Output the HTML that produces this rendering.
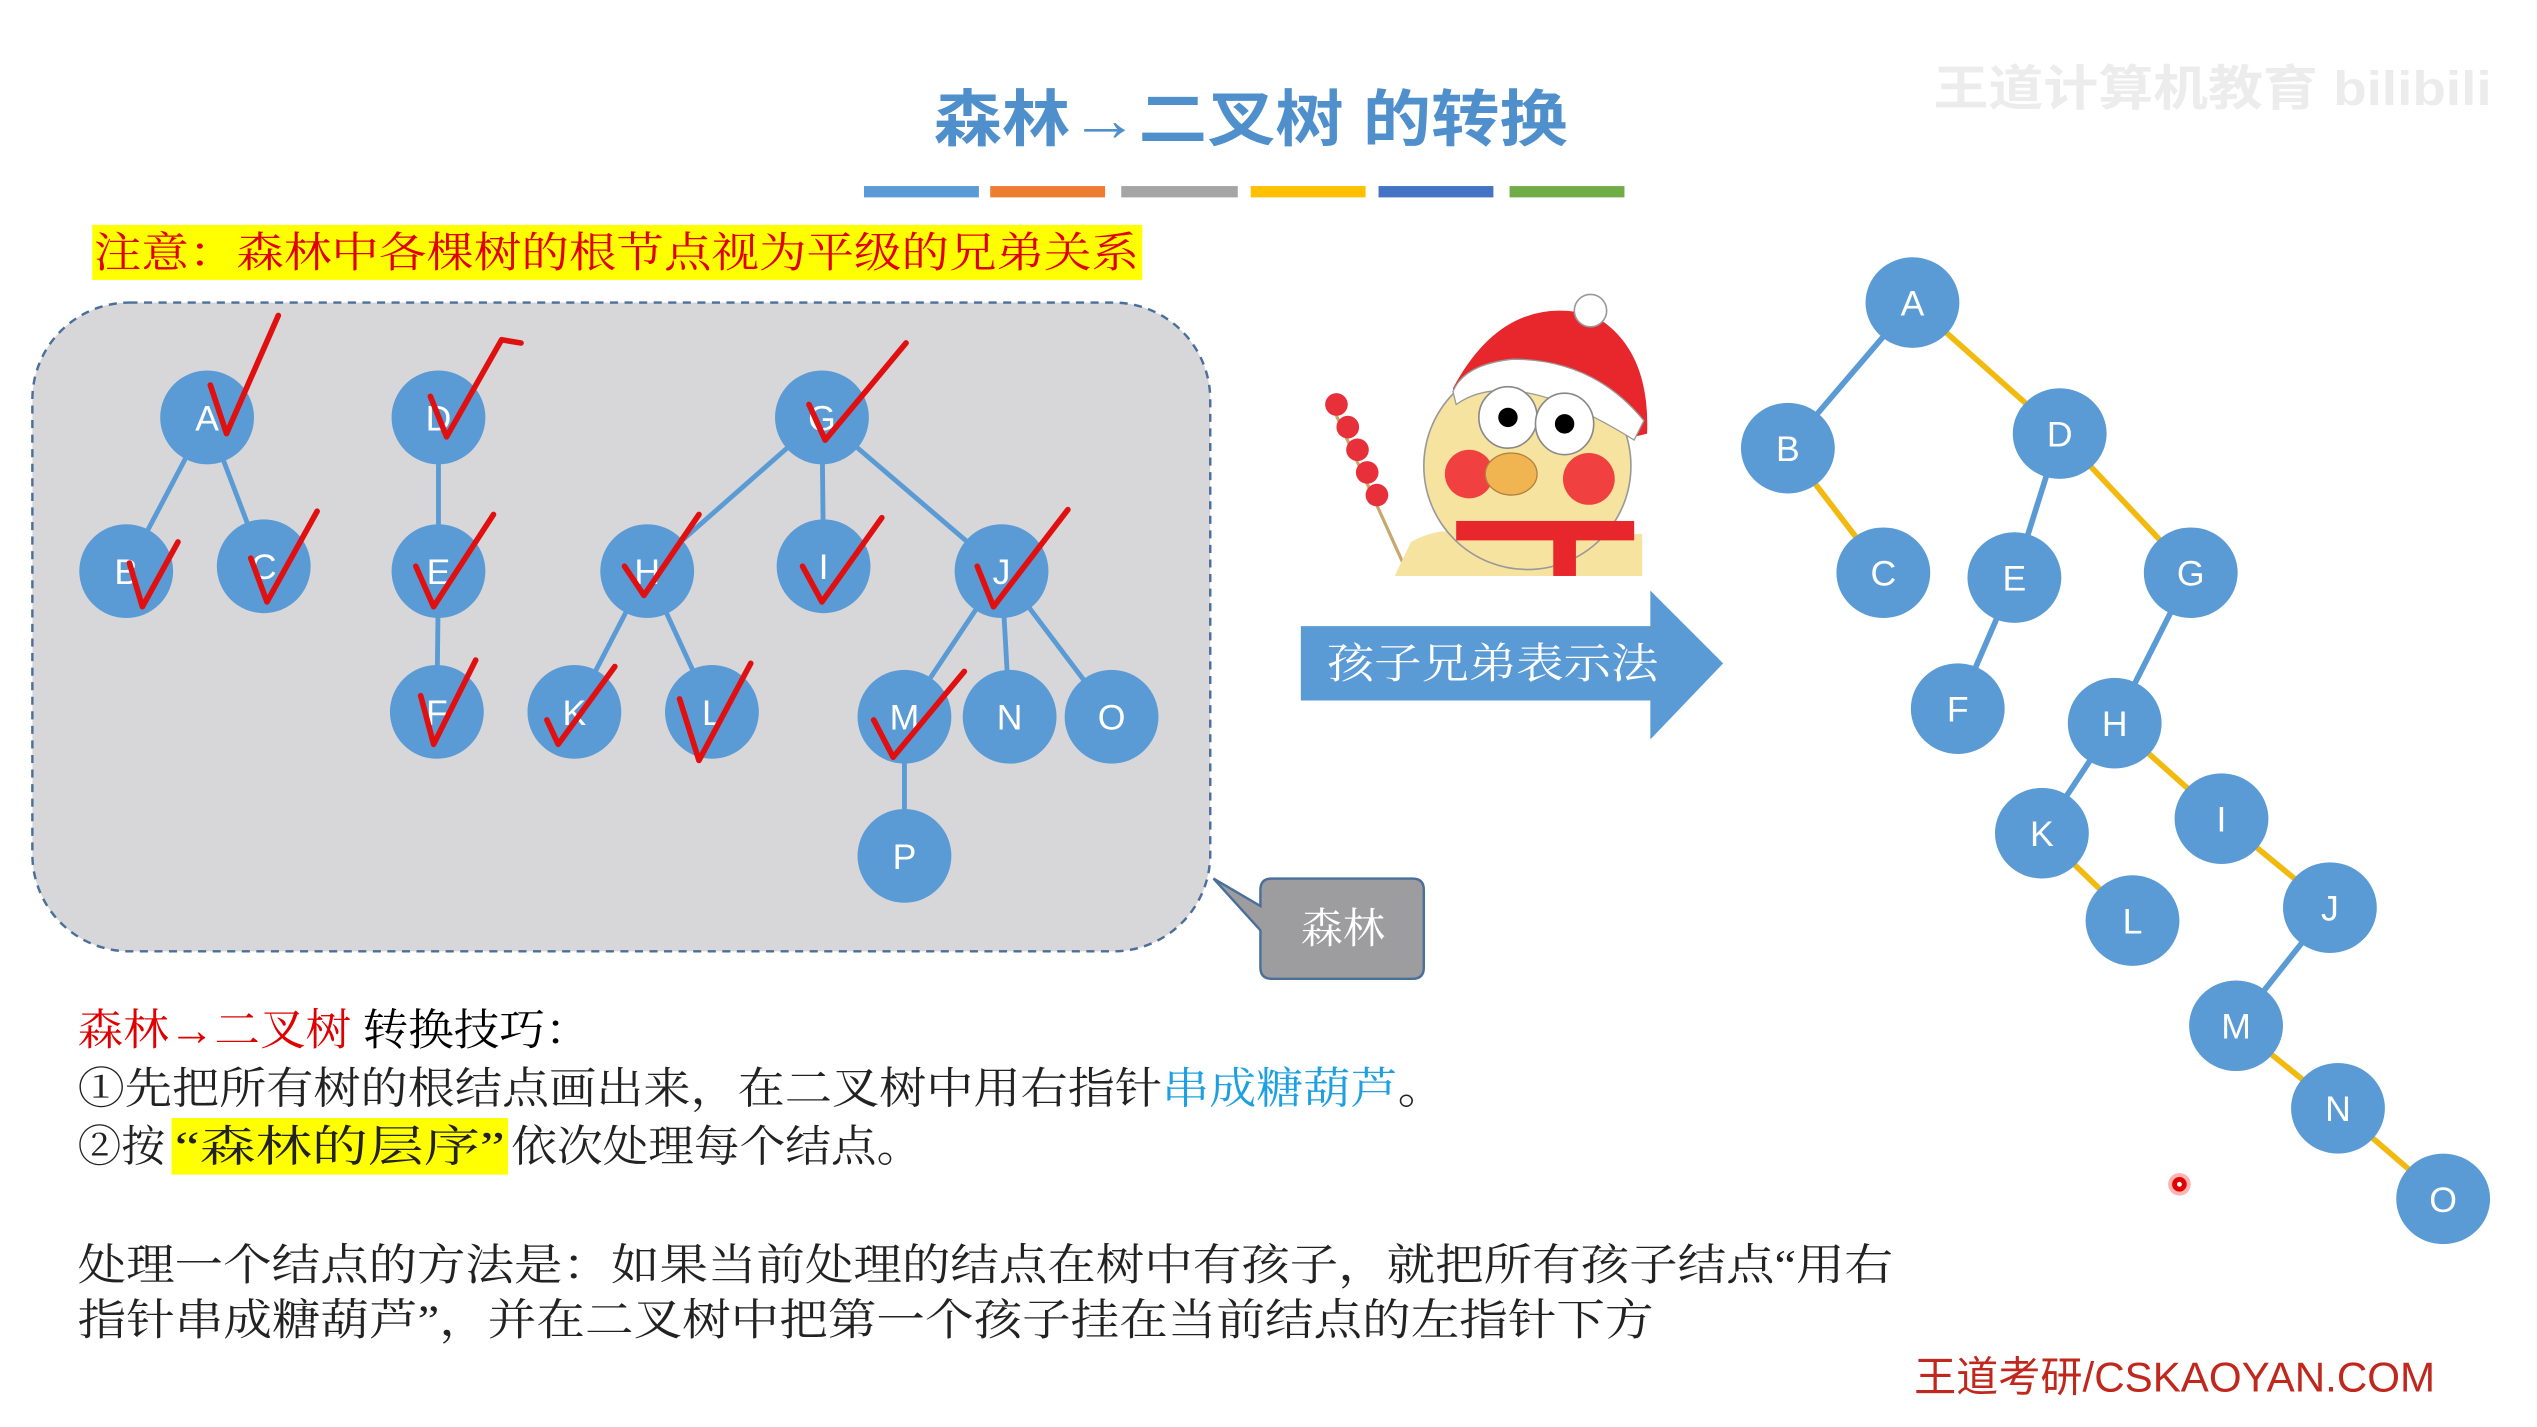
<!DOCTYPE html>
<html><head><meta charset="utf-8"><style>
html,body{margin:0;padding:0;background:#fff;width:2537px;height:1427px;overflow:hidden}
svg{display:block}
.s{font-family:"Liberation Serif","Noto Serif CJK SC",serif}
.a{font-family:"Liberation Sans","Noto Sans CJK SC",sans-serif}
</style></head><body>
<svg width="2537" height="1427" viewBox="0 0 1568 882" preserveAspectRatio="none" xmlns="http://www.w3.org/2000/svg">
<text x="1195" y="65" class="a" font-size="30" fill="#ececec" font-weight="bold" textLength="345" lengthAdjust="spacingAndGlyphs">王道计算机教育 bilibili</text>
<text x="577" y="87" class="a" font-size="38" fill="#4f8fcc" font-weight="bold" textLength="392" lengthAdjust="spacingAndGlyphs">森林→二叉树 的转换</text>
<rect x="534" y="115" width="71" height="7" fill="#5b9bd5"/>
<rect x="612" y="115" width="71" height="7" fill="#ed7d31"/>
<rect x="693" y="115" width="72" height="7" fill="#a5a5a5"/>
<rect x="773" y="115" width="71" height="7" fill="#ffc000"/>
<rect x="852" y="115" width="71" height="7" fill="#4472c4"/>
<rect x="933" y="115" width="71" height="7" fill="#70ad47"/>
<rect x="57" y="139" width="649" height="34" fill="#ffff00"/>
<text x="58" y="165" class="s" font-size="26" fill="#e00000" textLength="646" lengthAdjust="spacingAndGlyphs">注意：森林中各棵树的根节点视为平级的兄弟关系</text>
<rect x="20" y="187" width="728" height="401" rx="60" fill="#d7d7d9" stroke="#4a6f9a" stroke-width="1.5" stroke-dasharray="5,4"/>
<g stroke="#5b9bd5" stroke-width="3">
<line x1="128" y1="258" x2="78" y2="353"/><line x1="128" y1="258" x2="163" y2="350"/>
<line x1="271" y1="258" x2="271" y2="353"/><line x1="271" y1="353" x2="270" y2="440"/>
<line x1="508" y1="258" x2="400" y2="353"/><line x1="508" y1="258" x2="509" y2="350"/><line x1="508" y1="258" x2="619" y2="353"/>
<line x1="400" y1="353" x2="355" y2="440"/><line x1="400" y1="353" x2="440" y2="440"/>
<line x1="619" y1="353" x2="559" y2="443"/><line x1="619" y1="353" x2="624" y2="443"/><line x1="619" y1="353" x2="687" y2="443"/>
<line x1="559" y1="443" x2="559" y2="529"/>
</g>
<g fill="#5b9bd5">
<circle cx="128" cy="258" r="29"/><circle cx="78" cy="353" r="29"/><circle cx="163" cy="350" r="29"/>
<circle cx="271" cy="258" r="29"/><circle cx="271" cy="353" r="29"/><circle cx="270" cy="440" r="29"/>
<circle cx="508" cy="258" r="29"/><circle cx="400" cy="353" r="29"/><circle cx="509" cy="350" r="29"/><circle cx="619" cy="353" r="29"/>
<circle cx="355" cy="440" r="29"/><circle cx="440" cy="440" r="29"/><circle cx="559" cy="443" r="29"/><circle cx="624" cy="443" r="29"/><circle cx="687" cy="443" r="29"/><circle cx="559" cy="529" r="29"/>
</g>
<g class="a" font-size="22" fill="#fff" text-anchor="middle">
<text x="128" y="266">A</text><text x="78" y="361">B</text><text x="163" y="358">C</text>
<text x="271" y="266">D</text><text x="271" y="361">E</text><text x="270" y="448">F</text>
<text x="508" y="266">G</text><text x="400" y="361">H</text><text x="509" y="358">I</text><text x="619" y="361">J</text>
<text x="355" y="448">K</text><text x="440" y="448">L</text><text x="559" y="451">M</text><text x="624" y="451">N</text><text x="687" y="451">O</text><text x="559" y="537">P</text>
</g>
<g fill="none" stroke="#e01010" stroke-width="3.5" stroke-linecap="round" stroke-linejoin="round">
<path d="M130 238 L140 268 L172 195"/>
<path d="M80 348 L88 375 L110 335"/>
<path d="M155 345 L165 372 L196 316"/>
<path d="M266 245 L276 270 L310 210 L322 212"/>
<path d="M257 350 L268 375 L305 318"/>
<path d="M260 430 L268 460 L294 408"/>
<path d="M500 250 L510 272 L560 212"/>
<path d="M386 350 L398 368 L432 318"/>
<path d="M496 350 L508 372 L545 320"/>
<path d="M604 350 L614 375 L660 315"/>
<path d="M338 445 L345 460 L380 412"/>
<path d="M420 432 L432 470 L464 410"/>
<path d="M540 445 L552 468 L596 415"/>
</g>
<g>
<line x1="822" y1="248" x2="868" y2="350" stroke="#c8a870" stroke-width="2"/>
<g fill="#e8303a"><circle cx="826" cy="250" r="7"/><circle cx="833" cy="264" r="7"/><circle cx="839" cy="278" r="7"/><circle cx="845" cy="292" r="7"/><circle cx="851" cy="306" r="7"/></g>
<path d="M862 356 L872 335 Q890 325 905 330 L1015 330 L1015 356 Z" fill="#f7e3a0"/>
<circle cx="944" cy="288" r="64" fill="#f7e3a0" stroke="#999" stroke-width="1"/>
<path d="M898 240 Q930 180 985 195 Q1020 215 1018 268 L1010 270 Q985 225 935 230 Q910 232 900 250 Z" fill="#e8272c"/>
<path d="M900 250 Q935 225 1010 272 L1016 260 Q985 222 935 222 Q905 225 898 242 Z" fill="#fff" stroke="#999" stroke-width="0.8"/>
<circle cx="983" cy="192" r="10" fill="#fff" stroke="#999" stroke-width="1"/>
<ellipse cx="932" cy="258" rx="18" ry="19" fill="#fff" stroke="#888" stroke-width="1"/>
<ellipse cx="967" cy="262" rx="18" ry="19" fill="#fff" stroke="#888" stroke-width="1"/>
<circle cx="932" cy="258" r="6" fill="#000"/><circle cx="967" cy="262" r="6" fill="#000"/>
<circle cx="908" cy="293" r="15" fill="#f04040"/><circle cx="982" cy="296" r="16" fill="#f04040"/>
<ellipse cx="934" cy="293" rx="16" ry="13" fill="#f0b450" stroke="#b08040" stroke-width="0.8"/>
<rect x="900" y="322" width="110" height="12" fill="#e8272c"/>
<rect x="960" y="330" width="14" height="26" fill="#e8272c"/>
</g>
<path d="M804 387 L1020 387 L1020 365 L1065 410 L1020 457 L1020 433 L804 433 Z" fill="#5b9bd5"/>
<text x="820" y="419" class="s" font-size="26" fill="#fff" textLength="205" lengthAdjust="spacingAndGlyphs">孩子兄弟表示法</text>
<path d="M786 543 L873 543 Q880 543 880 550 L880 598 Q880 605 873 605 L786 605 Q779 605 779 598 L779 575 L750 543 L779 560 L779 550 Q779 543 786 543 Z" fill="#9d9d9f" stroke="#4a6f9a" stroke-width="1.5"/>
<text x="830" y="583" text-anchor="middle" class="s" font-size="26" fill="#fff">森林</text>
<g stroke-width="3.5">
<g stroke="#5b9bd5">
<line x1="1182" y1="187" x2="1105" y2="277"/><line x1="1273" y1="268" x2="1245" y2="357"/><line x1="1245" y1="357" x2="1210" y2="438"/>
<line x1="1354" y1="354" x2="1307" y2="447"/><line x1="1307" y1="447" x2="1262" y2="515"/><line x1="1440" y1="561" x2="1382" y2="634"/>
</g>
<g stroke="#f2b90f">
<line x1="1182" y1="187" x2="1273" y2="268"/><line x1="1105" y1="277" x2="1164" y2="354"/><line x1="1273" y1="268" x2="1354" y2="354"/>
<line x1="1307" y1="447" x2="1373" y2="506"/><line x1="1373" y1="506" x2="1440" y2="561"/><line x1="1262" y1="515" x2="1318" y2="569"/>
<line x1="1382" y1="634" x2="1445" y2="685"/><line x1="1445" y1="685" x2="1510" y2="741"/>
</g>
</g>
<g fill="#5b9bd5">
<ellipse cx="1182" cy="187" rx="29" ry="28"/><ellipse cx="1105" cy="277" rx="29" ry="28"/><ellipse cx="1273" cy="268" rx="29" ry="28"/>
<ellipse cx="1164" cy="354" rx="29" ry="28"/><ellipse cx="1245" cy="357" rx="29" ry="28"/><ellipse cx="1354" cy="354" rx="29" ry="28"/>
<ellipse cx="1210" cy="438" rx="29" ry="28"/><ellipse cx="1307" cy="447" rx="29" ry="28"/><ellipse cx="1262" cy="515" rx="29" ry="28"/>
<ellipse cx="1373" cy="506" rx="29" ry="28"/><ellipse cx="1318" cy="569" rx="29" ry="28"/><ellipse cx="1440" cy="561" rx="29" ry="28"/>
<ellipse cx="1382" cy="634" rx="29" ry="28"/><ellipse cx="1445" cy="685" rx="29" ry="28"/><ellipse cx="1510" cy="741" rx="29" ry="28"/>
</g>
<g class="a" font-size="22" fill="#fff" text-anchor="middle">
<text x="1182" y="195">A</text><text x="1105" y="285">B</text><text x="1273" y="276">D</text>
<text x="1164" y="362">C</text><text x="1245" y="365">E</text><text x="1354" y="362">G</text>
<text x="1210" y="446">F</text><text x="1307" y="455">H</text><text x="1262" y="523">K</text>
<text x="1373" y="514">I</text><text x="1318" y="577">L</text><text x="1440" y="569">J</text>
<text x="1382" y="642">M</text><text x="1445" y="693">N</text><text x="1510" y="749">O</text>
</g>
<circle cx="1347" cy="732" r="7" fill="#ff8080" opacity="0.6"/>
<circle cx="1347" cy="732" r="4.5" fill="#e00000"/><circle cx="1347" cy="732" r="1.5" fill="#fff"/>
<g class="s" font-size="27">
<text x="48" y="646" textLength="317" lengthAdjust="spacingAndGlyphs"><tspan fill="#e00000">森林→二叉树</tspan><tspan fill="#000"> 转换技巧：</tspan></text>
<text x="48" y="682" fill="#222" textLength="845" lengthAdjust="spacingAndGlyphs">①先把所有树的根结点画出来，在二叉树中用右指针<tspan fill="#1ea0e0">串成糖葫芦</tspan>。</text>
<rect x="106" y="691" width="208" height="35" fill="#ffff00"/>
<text x="48" y="718" fill="#222"><tspan>②按</tspan><tspan x="108" textLength="204" lengthAdjust="spacingAndGlyphs">“森林的层序”</tspan><tspan x="316" textLength="254" lengthAdjust="spacingAndGlyphs">依次处理每个结点。</tspan></text>
<text x="48" y="791" fill="#222" textLength="1122" lengthAdjust="spacingAndGlyphs">处理一个结点的方法是：如果当前处理的结点在树中有孩子，就把所有孩子结点“用右</text>
<text x="48" y="825" fill="#222" textLength="974" lengthAdjust="spacingAndGlyphs">指针串成糖葫芦”，并在二叉树中把第一个孩子挂在当前结点的左指针下方</text>
</g>
<text x="1183" y="860" class="a" font-size="26" fill="#c0281e" textLength="322" lengthAdjust="spacingAndGlyphs">王道考研/CSKAOYAN.COM</text>
</svg>
</body></html>
